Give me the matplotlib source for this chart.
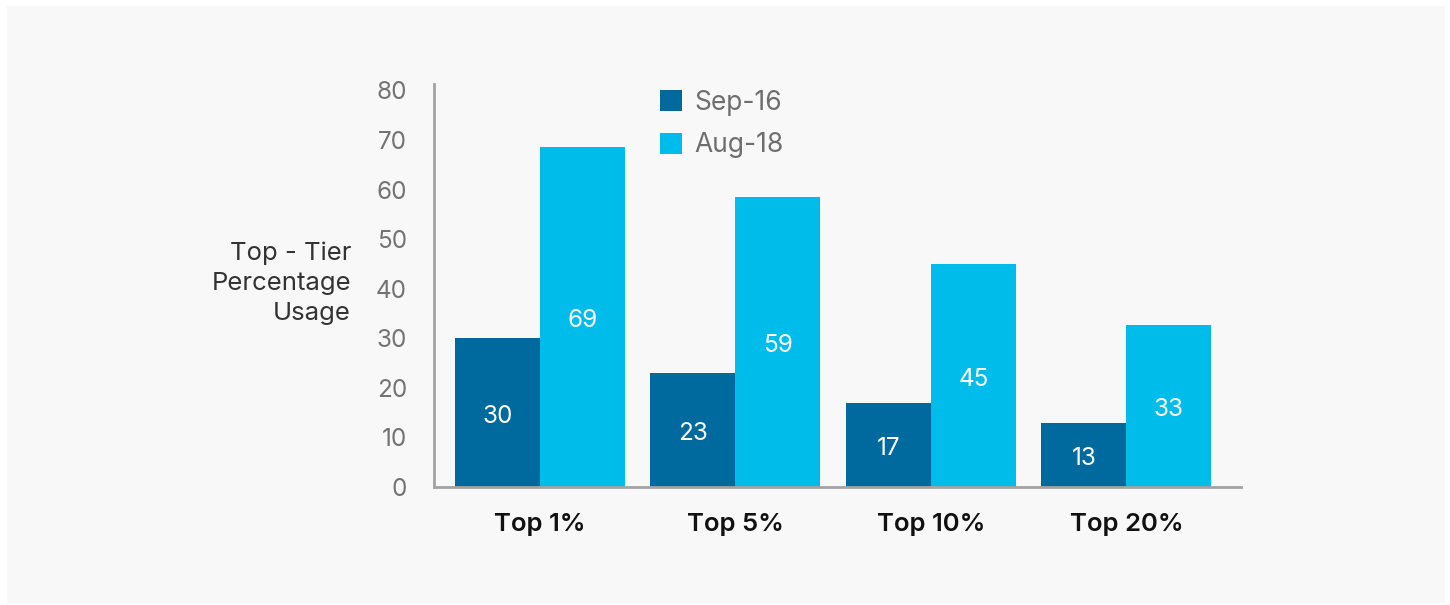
import matplotlib
matplotlib.use("Agg")
import matplotlib.pyplot as plt
import matplotlib.patches as mpatches
import numpy as np

categories = ["Top 1%", "Top 5%", "Top 10%", "Top 20%"]
series_names = ["Sep-16", "Aug-18"]
sep16 = [30, 23, 17, 13]
aug18 = [68.6, 58.6, 45, 32.7]
y_ticks = [0, 10, 20, 30, 40, 50, 60, 70, 80]

colors = ["#006a9f", "#00bceb"]
plt.rcParams['font.family'] = ['Inter', 'DejaVu Sans']

W, H = 1450, 605
fig = plt.figure(figsize=(W / 100, H / 100), dpi=100)
fig.patch.set_facecolor("white")
bg = mpatches.Rectangle((7 / W, 1 - 603 / H), (1445 - 7) / W, (603 - 6) / H,
                        transform=fig.transFigure, facecolor="#f8f8f8",
                        edgecolor="none", zorder=-10)
fig.patches.append(bg)

ax = fig.add_axes([434 / W, 1 - 487 / H, (1241 - 434) / W, (487 - 84) / H])
ax.set_facecolor("none")

x = np.arange(len(categories))
bw = 0.435
b1 = ax.bar(x - bw / 2, sep16, bw, color=colors[0], label=series_names[0], zorder=2)
b2 = ax.bar(x + bw / 2, aug18, bw, color=colors[1], label=series_names[1], zorder=2)

for bars, vals in ((b1, sep16), (b2, aug18)):
    for rect, v in zip(bars, vals):
        ax.annotate(f"{v:.0f}", (rect.get_x() + rect.get_width() / 2, v / 2),
                    xytext=(0, -4), textcoords="offset pixels",
                    ha="center", va="center", color="white", fontsize=17.5, zorder=3)

ax.set_xlim(-0.542, 3.586)
ax.set_ylim(0, 81.3)
ax.set_yticks(y_ticks)
ax.set_yticklabels([str(t) for t in y_ticks])
ax.set_xticks(x)
ax.set_xticklabels(categories)
ax.tick_params(axis="y", length=0, pad=19.5, labelsize=17.5, labelcolor="#737373")
ax.tick_params(axis="x", length=0, pad=19, labelsize=18.5, labelcolor="#111111")
for lbl in ax.get_xticklabels():
    lbl.set_fontweight("semibold")

for s in ("top", "right"):
    ax.spines[s].set_visible(False)
for s in ("left", "bottom"):
    ax.spines[s].set_color("#a3a3a3")
    ax.spines[s].set_linewidth(2)

fig.text(351 / W, 1 - 283 / H, "Top - Tier\nPercentage\nUsage", ha="right", va="center",
         multialignment="right", fontsize=18.5, color="#333333", linespacing=1.4)

leg = ax.legend(handles=[b1, b2], loc="upper left",
                bbox_to_anchor=(652 / W, 1 - 82 / H), bbox_transform=fig.transFigure,
                frameon=False, fontsize=19, handlelength=0.85, handleheight=0.85,
                handletextpad=0.45, labelspacing=0.62, borderpad=0.3, borderaxespad=0)
for t in leg.get_texts():
    t.set_color("#6e6e6e")

fig.savefig("out.png", dpi=100, facecolor=fig.get_facecolor())
